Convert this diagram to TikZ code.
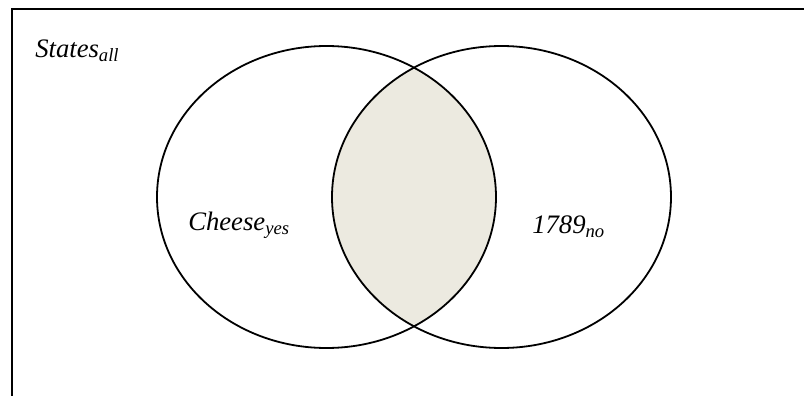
\documentclass[tikz,border=0pt]{standalone}
\usepackage{fontspec}
\setmainfont{Liberation Serif}
\definecolor{lensfill}{RGB}{236,234,224}
\begin{document}
\begin{tikzpicture}[x=0.75pt,y=-0.75pt,
  setline/.style={line width=1.35pt},
  framebar/.style={line width=1.6pt},
  label/.style={anchor=base west,inner sep=0pt,font=\fontsize{20}{24}\selectfont\itshape}]
\useasboundingbox (0,0) rectangle (804,396);
% frame (top and left sides only)
\draw[framebar] (12,398) -- (12,9) -- (806,9);
% intersection fill
\begin{scope}
  \clip (326.5,197) ellipse [x radius=169.5, y radius=151];
  \fill[lensfill] (501.5,197) ellipse [x radius=169.5, y radius=151];
\end{scope}
\draw[setline] (326.5,197) ellipse [x radius=169.5, y radius=151];
\draw[setline] (501.5,197) ellipse [x radius=169.5, y radius=151];
\node[label] (all) at (35,57) {States\textsubscript{all}};
\node[label] (cheese) at (188,230) {Cheese\textsubscript{yes}};
\node[label] (year) at (532,233) {1789\textsubscript{no}};
\end{tikzpicture}
\end{document}
